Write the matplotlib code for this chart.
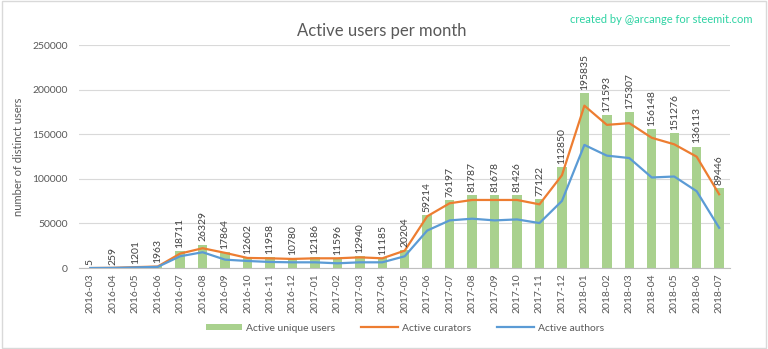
import matplotlib
matplotlib.use('Agg')
from matplotlib import pyplot as plt
from matplotlib.patches import Rectangle
import numpy as np

months = ['2016-03', '2016-04', '2016-05', '2016-06', '2016-07', '2016-08', '2016-09',
          '2016-10', '2016-11', '2016-12', '2017-01', '2017-02', '2017-03', '2017-04',
          '2017-05', '2017-06', '2017-07', '2017-08', '2017-09', '2017-10', '2017-11',
          '2017-12', '2018-01', '2018-02', '2018-03', '2018-04', '2018-05', '2018-06',
          '2018-07']
unique_users = [5, 259, 1201, 1963, 18711, 26329, 17864, 12602, 11958, 10780, 12186,
                11596, 12940, 11185, 20204, 59214, 76197, 81787, 81678, 81426, 77122,
                112850, 195835, 171593, 175307, 156148, 151276, 136113, 89446]
curators = [0, 200, 1000, 1700, 16200, 22200, 17000, 11300, 10900, 10200, 10900,
            10900, 12000, 10900, 19500, 58000, 72600, 76300, 76300, 76300, 71400,
            104000, 182000, 160500, 162400, 146000, 138700, 124800, 82700]
authors = [0, 150, 700, 1300, 13200, 17700, 9400, 7900, 6800, 6400, 6400,
           5300, 6400, 6400, 13200, 42000, 53400, 55300, 53400, 54500, 50400,
           75200, 138000, 126000, 123300, 101500, 102600, 86100, 45100]

plt.rcParams['font.family'] = ['Lato', 'DejaVu Sans']
grey = '#595959'

fig = plt.figure(figsize=(7.68, 3.49), dpi=100)
ax = fig.add_axes([0.103, 0.232, 0.848, 0.639])
fig.patches.append(Rectangle((0.002, 0.003), 0.996, 0.994, transform=fig.transFigure,
                             fill=False, edgecolor='#d9d9d9', linewidth=1))

x = np.arange(len(months))
bars = ax.bar(x, unique_users, width=0.42, color='#a9d18e', label='Active unique users', zorder=2)
l1, = ax.plot(x, curators, color='#ed7d31', linewidth=1.6, label='Active curators', zorder=3)
l2, = ax.plot(x, authors, color='#5b9bd5', linewidth=1.6, label='Active authors', zorder=3)

for xi, v in zip(x, unique_users):
    ax.text(xi, v + 3500, str(v), rotation=90, ha='center', va='bottom',
            fontsize=7.5, color='#404040', zorder=4)

ax.set_xlim(-0.5, len(months) - 0.5)
ax.set_ylim(0, 250000)
ax.set_yticks(np.arange(0, 250001, 50000))
ax.set_xticks(x)
ax.set_xticklabels(months, rotation=90, fontsize=7.5, color=grey)
ax.tick_params(axis='y', labelsize=7.5, labelcolor=grey, length=0, pad=8)
ax.tick_params(axis='x', length=0, pad=4)
ax.grid(axis='y', color='#d9d9d9', linewidth=0.8, zorder=0)
ax.set_axisbelow(True)
for s in ['top', 'right', 'left']:
    ax.spines[s].set_visible(False)
ax.spines['bottom'].set_color('#bfbfbf')
ax.set_ylabel('number of distinct users', fontsize=8, color=grey, labelpad=6)

fig.text(0.497, 0.91, 'Active users per month', ha='center', va='center',
         fontsize=12, color=grey)
fig.text(0.98, 0.945, 'created by @arcange for steemit.com', ha='right', va='center',
         fontsize=8, color='#2ed3a3')

ax.legend([bars, l1, l2], ['Active unique users', 'Active curators', 'Active authors'],
          loc='center', bbox_to_anchor=(0.5, -0.27), ncol=3, frameon=False,
          fontsize=7.5, labelcolor=grey, handlelength=3.5, handleheight=0.5,
          columnspacing=2.5, handletextpad=0.4)

fig.savefig('out.png', dpi=100)
